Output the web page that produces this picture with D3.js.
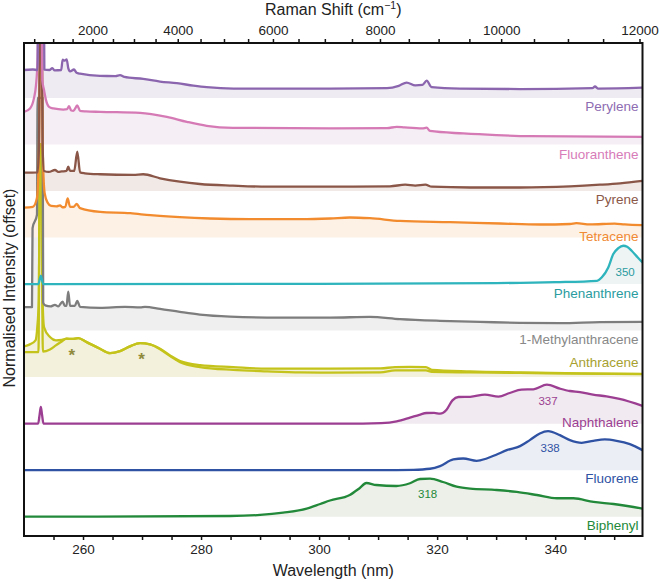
<!DOCTYPE html>
<html><head><meta charset="utf-8">
<script src="https://cdn.jsdelivr.net/npm/d3@7"></script>
<style>
body{margin:0;background:#fff}
text{font-family:"Liberation Sans",Arial,Helvetica,sans-serif}
</style>
</head><body>
<svg id="chart" width="660" height="582"></svg>
<script>
// ---------- DATA (wavelength nm, normalised intensity relative to each trace's offset) ----------
const seriesNames = ["Biphenyl","Fluorene","Naphthalene","Anthracene","1-Methylanthracene","Phenanthrene","Tetracene","Pyrene","Fluoranthene","Perylene"];
const offsets = [0,1,2,3,4,5,6,7,8,9];

const biphenyl = [[250,0],[284.9,0.015],[290.0,0.037],[293.9,0.086],[297.9,0.172],[300.2,0.273],[301.85,0.348],[305.2,0.466],[306.9,0.617],[308.0,0.724],[309.7,0.681],[313.1,0.660],[315.4,0.718],[317.1,0.810],[318.8,0.817],[321.0,0.746],[323.3,0.645],[325.6,0.602],[330.1,0.574],[333.5,0.531],[336.9,0.466],[340.3,0.396],[343.1,0.396],[346.5,0.316],[349.9,0.273],[354.8,0.172]];

const fluorene = [[250,0],[310.3,0],[316.0,0.008],[318.8,0.03],[320.5,0.086],[322.74,0.230],[324.43,0.251],[326.7,0.200],[328.4,0.251],[330.1,0.337],[331.8,0.430],[334.05,0.516],[335.7,0.645],[337.4,0.789],[338.8,0.838],[340.8,0.752],[342.5,0.645],[344.5,0.587],[346.45,0.630],[348.4,0.660],[350.4,0.630],[352.66,0.559],[354.8,0.430]];

const naphthalene = [[250,0],[252.4,0],[252.65,0.2],[252.85,0.357],[253.05,0.2],[253.3,0],[307.4,0],[310.5,0.01],[313.15,0.05],[315.4,0.129],[317.0,0.19],[318.2,0.228],[319.5,0.23],[320.5,0.215],[321.6,0.30],[322.6,0.50],[323.6,0.572],[325.6,0.575],[328.1,0.625],[330.4,0.580],[332.3,0.658],[334.3,0.731],[336.3,0.737],[338.6,0.838],[340.8,0.752],[342.5,0.701],[344.2,0.679],[346.4,0.623],[348.7,0.587],[350.9,0.533],[354.8,0.383]];

const anthraceneA = [[250,0.66],[251.0,0.703],[251.95,0.789],[252.25,1.068],[252.5,1.65],[252.7,5],[252.95,5],[253.15,1.65],[253.4,1.068],[254.4,0.86],[255.4,0.789],[256.4,0.80],[257.23,0.825],[258.1,0.82],[259.2,0.838],[260.62,0.752],[262.88,0.610],[264.58,0.516],[266.27,0.559],[267.97,0.660],[269.66,0.731],[271.36,0.703],[273.06,0.610],[274.75,0.466],[276.45,0.344],[279.84,0.258],[285.43,0.215],[291.2,0.181],[301.85,0.181],[310.4,0.187],[312.9,0.215],[315.4,0.219],[318.1,0.215],[319.1,0.155],[325.6,0.123],[334.1,0.101],[344.3,0.080],[354.8,0.069]];
const anthraceneB = [[250,0.537],[252.45,0.537],[252.7,5],[252.9,5],[253.2,0.55],[254.4,0.595],[255.4,0.681],[256.4,0.767],[257.23,0.825],[258.1,0.82],[259.2,0.838],[260.62,0.752],[262.88,0.610],[264.58,0.516],[266.27,0.559],[267.97,0.660],[269.66,0.731],[271.36,0.703],[273.06,0.600],[274.75,0.450],[276.45,0.320],[279.84,0.215],[285.43,0.155],[291.2,0.123],[296.8,0.100],[301.85,0.095],[310.4,0.101],[312.9,0.144],[318.1,0.144],[319.1,0.112],[325.6,0.101],[334.1,0.090],[344.3,0.073],[354.8,0.062]];

const methylanthracene = [[250,0.503],[251.35,0.503],[251.45,2.2],[252.2,2.49],[252.3,5],[253.15,5],[253.25,0.6],[253.6,0.54],[254.5,0.52],[255.25,0.552],[255.8,0.52],[256.55,0.623],[256.9,0.531],[257.2,0.53],[257.5,0.838],[257.8,0.53],[258.6,0.53],[259.03,0.638],[259.5,0.509],[262.9,0.488],[267.1,0.509],[269.7,0.50],[270.5,0.509],[273.05,0.466],[276.4,0.402],[279.8,0.344],[284.9,0.301],[293.4,0.279],[301.85,0.279],[308.6,0.294],[313.7,0.245],[320.5,0.209],[327.3,0.187],[334.0,0.166],[340.9,0.159],[347.6,0.181],[354.8,0.187]];

const phenanthrene = [[250,0],[252.45,0],[252.7,0.12],[252.85,0.178],[253.0,0.12],[253.25,0],[300,0.005],[330,0.02],[340,0.04],[347.1,0.07],[347.88,0.142],[349.0,0.357],[349.85,0.645],[350.7,0.77],[351.54,0.823],[352.2,0.80],[352.96,0.716],[354.0,0.57],[354.8,0.464]];

const tetracene = [[250,0.64],[251.5,0.66],[252.2,0.85],[252.55,2.0],[252.75,5],[252.95,5],[253.15,2.0],[253.5,0.95],[254.0,0.75],[254.6,0.68],[255.5,0.67],[256.1,0.69],[256.5,0.65],[257.0,0.66],[257.4,0.838],[257.8,0.66],[258.4,0.66],[258.93,0.72],[259.5,0.63],[262.9,0.55],[268.0,0.522],[271.4,0.479],[276.4,0.436],[281.5,0.408],[288.3,0.393],[296.8,0.393],[301.85,0.408],[305.2,0.43],[308.6,0.415],[313.7,0.357],[322.2,0.329],[330.7,0.301],[337.4,0.279],[342.5,0.29],[343.6,0.31],[345.9,0.28],[350.1,0.30],[351.8,0.28],[354.8,0.264]];

const pyrene = [[250,0.393],[252.3,0.40],[252.55,1.0],[252.7,4],[252.85,5],[253.0,4],[253.15,1.0],[253.4,0.43],[254.2,0.41],[255.25,0.451],[255.8,0.41],[256.4,0.42],[257.2,0.43],[257.5,0.52],[257.8,0.43],[258.5,0.43],[259.03,0.845],[259.5,0.40],[260.3,0.38],[262.9,0.359],[268.5,0.344],[270.2,0.359],[273.05,0.273],[276.4,0.20],[279.8,0.150],[285.4,0.114],[291.2,0.092],[301.85,0.092],[312.0,0.10],[314.6,0.135],[316.3,0.115],[318.0,0.135],[319.1,0.092],[325.6,0.075],[334.0,0.075],[342.5,0.10],[347.6,0.135],[351.0,0.165],[354.8,0.215]];

const fluoranthene = [[250,0.70],[251.02,0.774],[251.69,0.995],[252.03,1.27],[252.29,1.81],[252.55,3.5],[252.83,5],[253.0,3.0],[253.10,1.38],[253.39,1.17],[253.73,0.952],[254.24,0.808],[254.97,0.774],[256.66,0.75],[257.3,0.76],[257.63,0.823],[258.0,0.73],[258.36,0.722],[259.03,0.838],[259.5,0.72],[260.5,0.71],[262.9,0.70],[269.66,0.68],[274.2,0.593],[277.6,0.486],[280.96,0.40],[285.4,0.357],[301.85,0.344],[311.5,0.35],[313.15,0.378],[314.5,0.365],[317.5,0.345],[318.23,0.36],[318.79,0.29],[324.43,0.236],[330.09,0.200],[335.73,0.178],[354.8,0.163]];

const perylene = [[250,0.60],[251.5,0.61],[252.3,0.60],[252.42,3],[253.33,3],[253.45,0.61],[254.3,0.60],[254.8,0.64],[255.2,0.59],[256.3,0.60],[256.55,0.82],[256.9,0.80],[257.23,0.83],[257.5,0.64],[257.8,0.57],[258.47,0.61],[258.9,0.54],[259.49,0.52],[262.88,0.473],[265.5,0.47],[266.27,0.49],[267.0,0.45],[270.2,0.408],[273.05,0.35],[275.9,0.316],[278.7,0.264],[280.96,0.23],[285.47,0.20],[301.85,0.20],[311.5,0.21],[313.5,0.26],[314.84,0.33],[316.3,0.27],[317.5,0.28],[318.23,0.37],[319.08,0.23],[323.87,0.20],[334.04,0.19],[346.3,0.21],[346.75,0.245],[347.3,0.20],[354.8,0.22]];

const seriesData = [biphenyl, fluorene, naphthalene, anthraceneA, methylanthracene, phenanthrene, tetracene, pyrene, fluoranthene, perylene];
const extraLines = [{idx:3, data:anthraceneB}];

// peak annotations [wavelength, value-above-offset, series index, text]
const peakNotes = [[351.86,0.249,5,"350"],[338.8,0.486,2,"337"],[339.15,0.466,1,"338"],[318.4,0.488,0,"318"]];
// asterisks on anthracene [wavelength, value-above-offset]
const asterisks = [[258.1,0.574],[269.9,0.47]];

// axis ticks
const wlTicks = d3.range(255, 351, 5);
const wlLabels = [260,280,300,320,340];
const ramanTicks = d3.range(500, 12001, 500);
const ramanLabels = [2000,4000,6000,8000,10000,12000];
const laserNm = 248.6;

// ---------- STYLE ----------
const lineColors  = ["#23893a","#2f52a3","#9c3f92","#c4c31b","#7d7d7d","#2db4bc","#f28b2e","#8a5647","#d67ab6","#8b66ae"];
const fillColors  = ["#edf0e9","#eceef6","#f1eaf0","#f3f1db","#efefef","#eef3f4","#fdf1e5","#f1e9e6","#f5eef4","#eeebf3"];
const labelColors = ["#23893a","#2f52a3","#9c3f92","#a7a12f","#888888","#2a9ca0","#f08a34","#8b5848","#d77cb9","#8e6cb2"];
const labelRel    = [-0.19,-0.183,0.021,0.31,-0.185,-0.202,0.028,-0.187,-0.202,-0.187];

const L = 24, R = 642.5, T = 43, B = 536;
const svg = d3.select("#chart");

const x = d3.scaleLinear().domain([250, 354.8]).range([L, R]);
const y = d3.scaleLinear().domain([-0.415, 10.18]).range([B, T]);

svg.append("defs").append("clipPath").attr("id","plotclip")
  .append("rect").attr("x",L).attr("y",T).attr("width",R-L).attr("height",B-T);

const plot = svg.append("g").attr("clip-path","url(#plotclip)");

// fills
seriesData.forEach((d,i)=>{
  const off = offsets[i];
  const area = d3.area().x(p=>x(p[0])).y0(y(off)).y1(p=>y(off+p[1])).curve(d3.curveMonotoneX);
  plot.append("path").attr("d",area(d)).attr("fill",fillColors[i]).attr("stroke","none");
});

// lines
const lineGen = off => d3.line().x(p=>x(p[0])).y(p=>y(off+p[1])).curve(d3.curveMonotoneX);
seriesData.forEach((d,i)=>{
  const off = offsets[i];
  extraLines.filter(e=>e.idx===i).forEach(e=>{
    plot.append("path").attr("d",lineGen(off)(e.data)).attr("fill","none")
      .attr("stroke",lineColors[i]).attr("stroke-width",2.3).attr("stroke-linejoin","round");
  });
  plot.append("path").attr("d",lineGen(off)(d)).attr("fill","none")
    .attr("stroke",lineColors[i]).attr("stroke-width",2.3).attr("stroke-linejoin","round");
});

// series labels
seriesNames.forEach((n,i)=>{
  svg.append("text").attr("x",638.5).attr("y",y(offsets[i]+labelRel[i])).attr("dy","0.35em")
    .attr("text-anchor","end").attr("font-size",13.5).attr("fill",labelColors[i]).text(n);
});

// peak notes
peakNotes.forEach(p=>{
  svg.append("text").attr("x",x(p[0])).attr("y",y(offsets[p[2]]+p[1])).attr("dy","0.35em")
    .attr("text-anchor","middle").attr("font-size",11.5).attr("fill",labelColors[p[2]]).text(p[3]);
});

// asterisks
asterisks.forEach(a=>{
  svg.append("text").attr("x",x(a[0])).attr("y",y(offsets[3]+a[1])).attr("dy","0.6em")
    .attr("text-anchor","middle").attr("font-size",17).attr("font-weight","bold")
    .attr("fill","#8f8a3c").text("*");
});

// bottom axis
const xAxis = d3.axisBottom(x).tickValues(wlTicks).tickSize(4).tickSizeOuter(0)
  .tickFormat(v=>wlLabels.includes(v)?String(v):"");
const gx = svg.append("g").attr("transform",`translate(0,${B})`).call(xAxis);
gx.select(".domain").remove();
gx.selectAll(".tick line").attr("stroke","#111").attr("stroke-width",1.5);
gx.selectAll(".tick text").attr("font-size",13.5).attr("fill","#222").attr("y",8).attr("dy","0.71em")
  .style("font-family",'"Liberation Sans",Arial,sans-serif');

// top axis (Raman shift)
const toNm = s => 1e7/(1e7/laserNm - s);
const topAxis = d3.axisTop(x).tickValues(ramanTicks.map(toNm)).tickSize(4).tickSizeOuter(0)
  .tickFormat((v,i)=>ramanLabels.includes(ramanTicks[i])?String(ramanTicks[i]):"");
const gt = svg.append("g").attr("transform",`translate(0,${T})`).call(topAxis);
gt.select(".domain").remove();
gt.selectAll(".tick line").attr("stroke","#111").attr("stroke-width",1.5);
gt.selectAll(".tick text").attr("font-size",13.5).attr("fill","#222").attr("y",-8)
  .style("font-family",'"Liberation Sans",Arial,sans-serif');

// frame
svg.append("rect").attr("x",L).attr("y",T).attr("width",R-L).attr("height",B-T)
  .attr("fill","none").attr("stroke","#111").attr("stroke-width",2);

// titles
svg.append("text").attr("x",(L+R)/2).attr("y",575.5).attr("text-anchor","middle")
  .attr("font-size",16).attr("fill","#222").text("Wavelength (nm)");
const tt = svg.append("text").attr("x",(L+R)/2).attr("y",15).attr("text-anchor","middle")
  .attr("font-size",16).attr("fill","#222");
tt.append("tspan").text("Raman Shift (cm");
tt.append("tspan").attr("dy",-6).attr("font-size",10.5).text("\u22121");
tt.append("tspan").attr("dy",6).text(")");
svg.append("text").attr("transform","translate(15,288) rotate(-90)").attr("text-anchor","middle")
  .attr("font-size",16).attr("fill","#222").text("Normalised Intensity (offset)");
</script>
</body></html>
